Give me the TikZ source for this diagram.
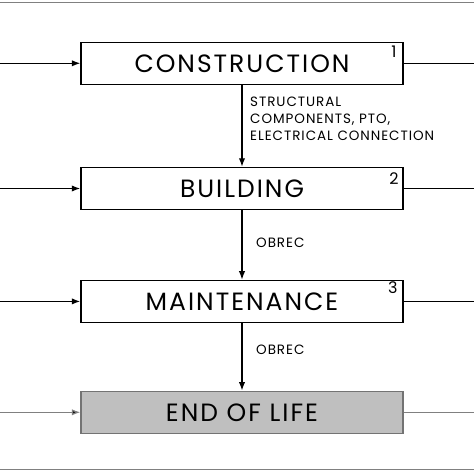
\documentclass[tikz,border=0pt]{standalone}
\usepackage{fontspec}
\setmainfont{Poppins}
\newfontfamily\boxfont[LetterSpace=8]{Poppins}
\newfontfamily\labelfont[LetterSpace=7]{Poppins}
\usepackage{tikz}
\usetikzlibrary{arrows.meta,arrows}
\usetikzlibrary{positioning}
\usetikzlibrary{calc}
\begin{document}
\begin{tikzpicture}[x=1pt,y=1pt,>=Latex]
\tikzstyle{step node}=[rectangle,draw,line width=1.5pt,minimum width=322pt,minimum height=42pt,inner sep=0,font=\boxfont\fontsize{25}{28}\selectfont]
\tikzstyle{eol node}=[step node,draw=gray!90!black,fill=black!25]
\tikzstyle{num node}=[inner sep=0,font=\fontsize{16}{18}\selectfont]
\tikzstyle{flow label}=[inner sep=0,align=left,font=\labelfont\fontsize{13.5}{17}\selectfont]
\tikzset{
  flow/.style = {line width=1.2pt},
  grey flow/.style = {line width=1.2pt,draw=gray}
}
\useasboundingbox (0,0) rectangle (474,474);
\draw[gray,line width=1pt] (0,471.5) -- (474,471.5);
\draw[gray,line width=1pt] (0,4) -- (474,4);

    \node[step node]  (con)  at (242,410.7)     {CONSTRUCTION};
    \node[step node]  (bld)  [below=81.7pt of con]  {BUILDING};
    \node[step node]  (mnt)  [below=69.4pt of bld]  {MAINTENANCE};
    \node[eol node]   (eol)  [below=67.4pt of mnt]  {END OF LIFE};
    %%%%%%%%%%%%%%%%%%%%%%%%%%%%%%%%%%%%%%%%%%
    \node[num node] (n1) [below left=4pt and 7pt of con.north east] {1};
    \node[num node] (n2) [below left=6pt and 5pt of bld.north east] {2};
    \node[num node] (n3) [below left=2pt and 6pt of mnt.north east] {3};
    \node[flow label] (l1) [anchor=north west] at (250,377) {STRUCTURAL\\COMPONENTS, PTO,\\ELECTRICAL CONNECTION};
    \node[flow label] (l2) [anchor=west] at (256,231) {OBREC};
    \node[flow label] (l3) [anchor=west] at (256,124) {OBREC};
    %%%%%%%%%%%%%%%%%%%%%%%%%%%%%%%%%%%%%%%%%%
    \coordinate (in1) at (0,410.7);
    \coordinate (in2) at ($(bld.west)-(81.3,0)$);
    \coordinate (in3) at ($(mnt.west)-(81.3,0)$);
    \coordinate (in4) at ($(eol.west)-(81.3,0)$);
    \coordinate (out1) at (474,410.7);
    \coordinate (out2) at ($(bld.east)+(72,0)$);
    \coordinate (out3) at ($(mnt.east)+(72,0)$);
    \coordinate (out4) at ($(eol.east)+(72,0)$);

    \path[->,flow]
         (in1)  edge node {} (con)
         (in2)  edge node {} (bld)
         (in3)  edge node {} (mnt)
         (con)  edge node {} (bld)
         (bld)  edge node {} (mnt)
         (mnt)  edge node {} (eol)
;
    \path[-,flow]
         (con)  edge node {} (out1)
         (bld)  edge node {} (out2)
         (mnt)  edge node {} (out3)
;
    \path[grey flow]
         (in4)  edge[->] node {} (eol)
         (eol)  edge node {} (out4)
;
\end{tikzpicture}
\end{document}
